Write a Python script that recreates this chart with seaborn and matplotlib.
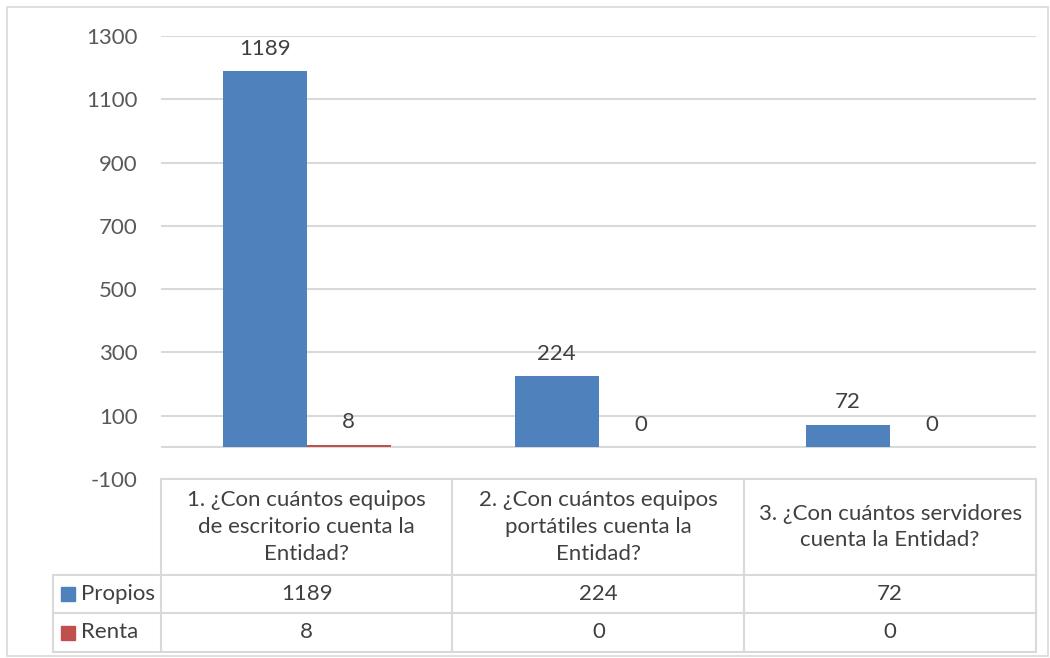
import matplotlib
matplotlib.use("Agg")
import matplotlib.pyplot as plt
import seaborn as sns
import pandas as pd
from matplotlib.lines import Line2D
from matplotlib.patches import Rectangle
from matplotlib.transforms import blended_transform_factory

# ---- data ----
categories = [
    "1. ¿Con cuántos equipos\nde escritorio cuenta la\nEntidad?",
    "2. ¿Con cuántos equipos\nportátiles cuenta la\nEntidad?",
    "3. ¿Con cuántos servidores\ncuenta la Entidad?",
]
series_names = ["Propios", "Renta"]
propios = [1189, 224, 72]
renta = [8, 0, 0]
y_ticks = [-100, 100, 300, 500, 700, 900, 1100, 1300]
colors = ["#4F81BD", "#C0504D"]

sns.set_theme(style="white")
plt.rcParams["font.family"] = ["Lato", "DejaVu Sans"]

FS = 16
W, H = 1050, 658
fig = plt.figure(figsize=(W / 100, H / 100), dpi=100)

def fx(px):
    return px / W

def fy(py):
    return 1 - py / H

ax_left, ax_right, ax_top, ax_bottom = 161, 1036, 36, 479
ax = fig.add_axes([fx(ax_left), fy(ax_bottom), fx(ax_right) - fx(ax_left), fy(ax_top) - fy(ax_bottom)])

df = pd.DataFrame({
    "cat": categories * 2,
    "serie": [series_names[0]] * 3 + [series_names[1]] * 3,
    "val": propios + renta,
})
sns.barplot(data=df, x="cat", y="val", hue="serie", palette=colors, width=0.576,
            gap=0, legend=False, ax=ax, saturation=1, edgecolor="none", linewidth=0)

ax.set_ylim(-100, 1300)
ax.set_xlim(-0.5, 2.5)
ax.set_yticks(y_ticks)
ax.set_yticklabels([str(v) for v in y_ticks])
ax.tick_params(axis="y", length=0, pad=17, labelsize=FS, labelcolor="#595959")
ax.set_xticks([])
ax.set_xlabel("")
ax.set_ylabel("")
for s in ax.spines.values():
    s.set_visible(False)

grid_color = "#D9D9D9"
for v in y_ticks[1:]:
    ax.axhline(v, color=grid_color, lw=1.5, zorder=0)
ax.axhline(0, color=grid_color, lw=1.5, zorder=0)

for cont in ax.containers:
    ax.bar_label(cont, labels=[f"{int(b.get_height())}" for b in cont], padding=9,
                 fontsize=FS, color="#404040")

# ---- data table ----
text_color = "#404040"
lc = "#D9D9D9"
tr = blended_transform_factory(ax.transData, fig.transFigure)

def hline(x0px, x1px, ypx):
    fig.add_artist(Line2D([fx(x0px), fx(x1px)], [fy(ypx), fy(ypx)], color=lc, lw=1.5,
                          transform=fig.transFigure))

def vline(xpx, y0px, y1px):
    fig.add_artist(Line2D([fx(xpx), fx(xpx)], [fy(y0px), fy(y1px)], color=lc, lw=1.5,
                          transform=fig.transFigure))

row_head = (479, 575)
row1 = (575, 613)
row2 = (613, 652)
hline(161, 1036, 479)
hline(53, 1036, 575)
hline(53, 1036, 613)
hline(53, 1036, 652)
for xpx in [161, 452, 744, 1036]:
    vline(xpx, 479, 652)
vline(53, 575, 652)

for i, cat in enumerate(categories):
    fig.text(i, fy(sum(row_head) / 2), cat, transform=tr, ha="center", va="center",
             fontsize=FS, color=text_color, linespacing=1.42)
    fig.text(i, fy(sum(row1) / 2), str(propios[i]), transform=tr, ha="center", va="center",
             fontsize=FS, color=text_color)
    fig.text(i, fy(sum(row2) / 2), str(renta[i]), transform=tr, ha="center", va="center",
             fontsize=FS, color=text_color)

for (r, name, col) in [(row1, series_names[0], colors[0]), (row2, series_names[1], colors[1])]:
    yc = sum(r) / 2
    fig.add_artist(Rectangle((fx(61), fy(yc + 7)), fx(14), fy(0) - fy(14), color=col,
                             transform=fig.transFigure))
    fig.text(fx(81), fy(yc), name, ha="left", va="center", fontsize=FS, color=text_color)

# chart border
fig.add_artist(Rectangle((fx(7), fy(656)), fx(1048) - fx(7), fy(7) - fy(656), fill=False,
                         edgecolor="#D9D9D9", lw=1.2, transform=fig.transFigure))

fig.savefig("out.png", dpi=100, facecolor="white")
